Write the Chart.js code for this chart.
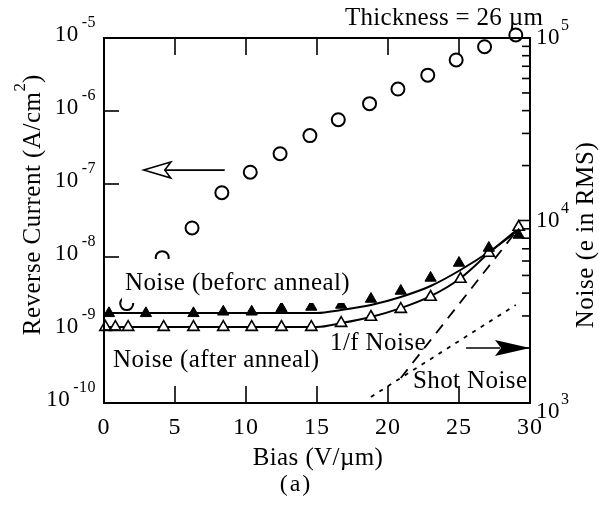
<!DOCTYPE html>
<html>
<head>
<meta charset="utf-8">
<script src="https://cdn.jsdelivr.net/npm/chart.js@4.4.0/dist/chart.umd.min.js"></script>
<style>
  html, body { margin: 0; padding: 0; background: #fff; }
  #wrap { width: 599px; height: 515px; }
</style>
</head>
<body>
<div id="wrap"><canvas id="chart" width="599" height="515"></canvas></div>
<script>
// reverse current (left axis, A/cm^2)
const biasCurrent = [1.6, 4.1, 6.2, 8.3, 10.3, 12.4, 14.5, 16.5, 18.7, 20.7, 22.8, 24.8, 26.8, 29.0];
const reverseCurrent = [2.3e-9, 9.8e-9, 2.5e-8, 7.6e-8, 1.45e-7, 2.6e-7, 4.6e-7, 7.6e-7, 1.26e-6, 2.0e-6, 3.1e-6, 5.0e-6, 7.6e-6, 1.1e-5];

// noise before anneal (filled triangles, right axis)
const biasBefore = [0.35, 2.95, 6.3, 8.4, 10.4, 12.5, 14.6, 16.7, 18.8, 20.9, 23.0, 25.0, 27.1, 29.2];
const noiseBefore = [3100, 3100, 3100, 3160, 3160, 3300, 3360, 3445, 3715, 4110, 4845, 5850, 7070, 8330];

// noise after anneal (open triangles)
const biasAfter = [0.1, 0.8, 1.7, 4.2, 6.3, 8.4, 10.4, 12.5, 14.6, 16.7, 18.8, 20.9, 23.0, 25.1, 27.1, 29.2];
const noiseAfter = [2606, 2606, 2606, 2606, 2606, 2606, 2606, 2606, 2606, 2740, 2960, 3270, 3810, 4780, 6630, 9210];

// fitted curves
const fitBeforeX = [0, 5, 10, 15, 16.7, 18.8, 20.9, 23.0, 25.1, 27.1, 29.2];
const fitBeforeY = [3110, 3110, 3110, 3115, 3236, 3445, 3810, 4375, 5355, 6720, 8870];
const fitAfterX = [0, 5, 10, 15, 16.7, 18.8, 20.9, 23.0, 25.1, 27.1, 29.2];
const fitAfterY = [2606, 2606, 2606, 2610, 2740, 2960, 3310, 3850, 4830, 6630, 9080];

// 1/f and shot noise contributions
const oneOverFX = [20.9, 29.0];
const oneOverFY = [1371, 8650];
const shotX = [18.8, 29.0];
const shotY = [1080, 3445];

// axes
const xTicks = [0, 5, 10, 15, 20, 25, 30];
const leftExponents = [-10, -9, -8, -7, -6, -5];
const rightExponents = [3, 4, 5];

const SERIF = '"Liberation Serif", "Times New Roman", serif';

function pts(xs, ys) {
  return xs.map((x, i) => ({ x: x, y: ys[i] }));
}

function line(ctx, x1, y1, x2, y2) {
  ctx.beginPath();
  ctx.moveTo(x1, y1);
  ctx.lineTo(x2, y2);
  ctx.stroke();
}

function text(ctx, s, x, y, size, align, base, spacing) {
  ctx.font = size + 'px ' + SERIF;
  ctx.letterSpacing = (spacing || 0) + 'px';
  ctx.textAlign = align || 'left';
  ctx.textBaseline = base || 'alphabetic';
  ctx.fillText(s, x, y);
  ctx.letterSpacing = '0px';
}

function width(ctx, s, size, spacing) {
  ctx.font = size + 'px ' + SERIF;
  ctx.letterSpacing = (spacing || 0) + 'px';
  const w = ctx.measureText(s).width;
  ctx.letterSpacing = '0px';
  return w;
}

const figurePlugin = {
  id: 'figure',
  afterDatasetsDraw(chart) {
    const { ctx, chartArea: a, scales: { x, yL, yR } } = chart;
    ctx.save();
    ctx.fillStyle = '#000';
    ctx.strokeStyle = '#000';

    // label that hides the circles behind it
    ctx.fillStyle = '#fff';
    ctx.fillRect(122, 259, 232, 44);
    ctx.fillStyle = '#000';
    text(ctx, 'Noise (beforc anneal)', 125, 290, 25, 'left', 'alphabetic', 0.4);
    text(ctx, 'Noise (after anneal)', 113, 367, 25, 'left', 'alphabetic', 0.4);
    text(ctx, '1/f Noise', 330, 350, 25, 'left', 'alphabetic', 0.4);

    // frame
    ctx.lineWidth = 2;
    ctx.strokeRect(a.left, a.top, a.right - a.left, a.bottom - a.top);

    // x ticks (inward, top and bottom)
    ctx.lineWidth = 1.6;
    xTicks.forEach(v => {
      const px = x.getPixelForValue(v);
      if (v > x.min && v < x.max) {
        line(ctx, px, a.bottom, px, a.bottom - 17);
        line(ctx, px, a.top, px, a.top + 17);
      }
      text(ctx, String(v), px, a.bottom + 25, 24, 'center', 'middle', 1);
    });

    // left ticks and labels
    leftExponents.forEach(e => {
      const py = yL.getPixelForValue(Math.pow(10, e));
      if (e > leftExponents[0] && e < leftExponents[leftExponents.length - 1]) {
        line(ctx, a.left, py, a.left + 15, py);
      }
      const ew = width(ctx, String(e), 16, 0.5);
      const right = a.left - 8;
      text(ctx, '10', right - ew - 3, py - 3, 23, 'right', 'middle', 0.5);
      text(ctx, String(e), right - ew, py - 15, 16, 'left', 'middle', 0.5);
    });

    // right ticks (log minor) and labels
    rightExponents.forEach((e, i) => {
      if (i < rightExponents.length - 1) {
        for (let m = 1; m < 10; m++) {
          const v = m * Math.pow(10, e);
          if (v <= yR.min || v >= yR.max) continue;
          const py = yR.getPixelForValue(v);
          line(ctx, a.right, py, a.right - (m === 1 ? 12 : 8), py);
        }
      }
      let py = yR.getPixelForValue(Math.pow(10, e));
      if (i === 0) py += 9;
      const w = width(ctx, '10', 23, 0.5);
      text(ctx, '10', a.right + 6, py, 23, 'left', 'middle', 0.5);
      text(ctx, String(e), a.right + 7 + w, py - 12, 16, 'left', 'middle');
    });

    // annotations on the lower right
    text(ctx, 'Shot Noise', 413, 388, 25, 'left', 'alphabetic', 0.4);
    text(ctx, 'Thickness = 26 \u00b5m', 345, 25, 25, 'left', 'alphabetic', 0.3);

    // arrow pointing to the left axis (open head)
    const ay = yL.getPixelForValue(1.55e-7);
    const ax1 = x.getPixelForValue(8.5), ax2 = x.getPixelForValue(2.8);
    ctx.lineWidth = 1.6;
    line(ctx, ax1, ay, ax2 + 22, ay);
    ctx.beginPath();
    ctx.moveTo(ax2 + 27, ay - 8);
    ctx.lineTo(ax2, ay);
    ctx.lineTo(ax2 + 27, ay + 8);
    ctx.lineTo(ax2 + 21, ay);
    ctx.closePath();
    ctx.stroke();

    // arrow pointing to the right axis (filled head)
    const by = yR.getPixelForValue(2000);
    const bx1 = x.getPixelForValue(25.5), bx2 = a.right;
    line(ctx, bx1, by, bx2 - 30, by);
    ctx.beginPath();
    ctx.moveTo(bx2 - 35, by - 8);
    ctx.lineTo(bx2, by);
    ctx.lineTo(bx2 - 35, by + 8);
    ctx.lineTo(bx2 - 29, by);
    ctx.closePath();
    ctx.fill();

    // axis titles
    text(ctx, 'Bias (V/\u00b5m)', 318, 458, 25, 'center', 'middle', 0.4);
    text(ctx, '(a)', 296, 485, 24, 'center', 'middle', 2);

    ctx.save();
    ctx.translate(586, 235);
    ctx.rotate(-Math.PI / 2);
    text(ctx, 'Noise (e in RMS)', 0, 0, 25, 'center', 'middle', 0.6);
    ctx.restore();

    ctx.save();
    ctx.translate(33, 205);
    ctx.rotate(-Math.PI / 2);
    const t1 = 'Reverse Current (A/cm';
    const w1 = width(ctx, t1, 25, 0.5);
    const w2 = width(ctx, '2', 17);
    const w3 = width(ctx, ')', 25);
    const start = -(w1 + w2 + w3) / 2;
    text(ctx, t1, start, 0, 25, 'left', 'middle', 0.5);
    text(ctx, '2', start + w1, -12, 17, 'left', 'middle');
    text(ctx, ')', start + w1 + w2, 0, 25, 'left', 'middle');
    ctx.restore();

    ctx.restore();
  }
};

new Chart(document.getElementById('chart'), {
  type: 'line',
  data: {
    datasets: [
      {
        label: 'Reverse current',
        data: pts(biasCurrent, reverseCurrent),
        yAxisID: 'yL',
        showLine: false,
        pointStyle: 'circle',
        pointRadius: 6.5,
        pointBorderWidth: 2,
        pointBorderColor: '#000',
        pointBackgroundColor: 'rgba(0,0,0,0)',
        clip: false
      },
      {
        label: 'Noise (before anneal)',
        data: pts(biasBefore, noiseBefore),
        yAxisID: 'yR',
        showLine: false,
        pointStyle: 'triangle',
        pointRadius: 6.5,
        pointBorderWidth: 1,
        pointBorderColor: '#000',
        pointBackgroundColor: '#000',
        clip: false
      },
      {
        label: 'Noise (after anneal)',
        data: pts(biasAfter, noiseAfter),
        yAxisID: 'yR',
        showLine: false,
        pointStyle: 'triangle',
        pointRadius: 6.5,
        pointBorderWidth: 1.6,
        pointBorderColor: '#000',
        pointBackgroundColor: '#fff',
        clip: false
      },
      {
        label: 'fit before',
        data: pts(fitBeforeX, fitBeforeY),
        yAxisID: 'yR',
        borderColor: '#000',
        borderWidth: 2,
        pointRadius: 0,
        cubicInterpolationMode: 'monotone'
      },
      {
        label: 'fit after',
        data: pts(fitAfterX, fitAfterY),
        yAxisID: 'yR',
        borderColor: '#000',
        borderWidth: 2,
        pointRadius: 0,
        cubicInterpolationMode: 'monotone'
      },
      {
        label: '1/f noise',
        data: pts(oneOverFX, oneOverFY),
        yAxisID: 'yR',
        borderColor: '#000',
        borderWidth: 1.8,
        borderDash: [11, 8],
        pointRadius: 0
      },
      {
        label: 'shot noise',
        data: pts(shotX, shotY),
        yAxisID: 'yR',
        borderColor: '#000',
        borderWidth: 1.8,
        borderDash: [4, 6],
        pointRadius: 0
      }
    ]
  },
  options: {
    responsive: false,
    animation: false,
    layout: { padding: { left: 104, right: 69, top: 38, bottom: 112 } },
    plugins: { legend: { display: false }, tooltip: { enabled: false } },
    scales: {
      x: { type: 'linear', min: 0, max: 30, display: false },
      yL: { type: 'logarithmic', position: 'left', min: 1e-10, max: 1e-5, display: false },
      yR: { type: 'logarithmic', position: 'right', min: 1e3, max: 1e5, display: false }
    }
  },
  plugins: [figurePlugin]
});
</script>
</body>
</html>
